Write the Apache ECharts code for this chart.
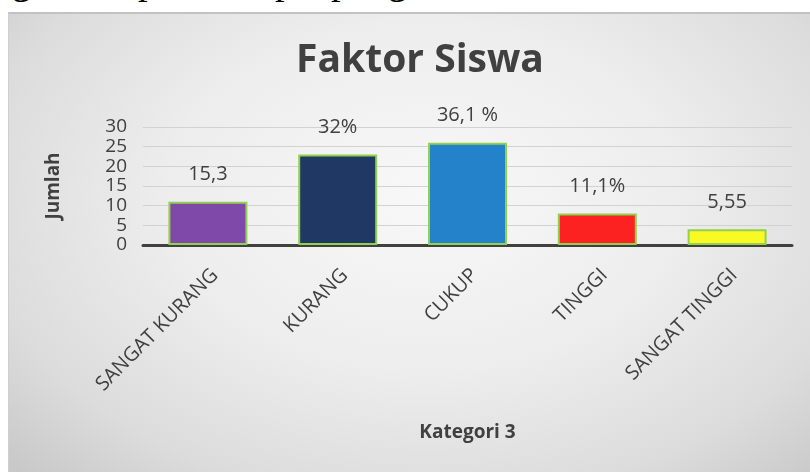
<!DOCTYPE html>
<html>
<head>
<meta charset="utf-8">
<script src="https://cdn.jsdelivr.net/npm/echarts@6/dist/echarts.min.js"></script>
<style>
  html, body { margin: 0; padding: 0; background: #fff; }
  #page { position: relative; width: 810px; height: 472px; overflow: hidden; background: #fff; }
  #strip { position: absolute; left: 0; top: 0; width: 810px; height: 12px; overflow: hidden; }
  #strip span { position: absolute; top: -39px; font: 38px/40px "Liberation Serif", serif; color: #000; }
  #frame {
    position: absolute; left: 8px; top: 12px; width: 802px; height: 460px;
    border-top: 2px solid #c2c2c2; border-left: 1px solid #cfcfcf; box-sizing: border-box;
    background: radial-gradient(ellipse 72% 85% at 52% 40%, #f8f8f8 0%, #ededed 45%, #dcdcdc 78%, #c8c8c8 100%);
  }
  #chart { position: absolute; left: 0; top: 0; width: 810px; height: 472px; }
</style>
</head>
<body>
<div id="page">
  <div id="strip">
    <span style="left:12px">g</span>
    <span style="left:138px">p</span>
    <span style="left:275px">p</span>
    <span style="left:331px">p</span>
    <span style="left:388px">g</span>
  </div>
  <div id="frame"></div>
  <div id="chart"></div>
</div>
<script>
// Données du graphique
const categories = ['SANGAT KURANG', 'KURANG', 'CUKUP', 'TINGGI', 'SANGAT TINGGI'];
const values = [11, 23, 26, 8, 4];
const valueLabels = ['15,3', '32%', '36,1 %', '11,1%', '5,55'];
const barColors = ['#7f49a9', '#203864', '#2382c9', '#fd2222', '#f9f923'];
const yTicks = [0, 30, 5]; // min, max, interval

const FONT = '"Open Sans", "Noto Sans", sans-serif';
const TEXT_COLOR = '#404040';

const chart = echarts.init(document.getElementById('chart'), null, { renderer: 'canvas' });

chart.setOption({
  backgroundColor: 'transparent',
  animation: false,
  title: {
    text: 'Faktor Siswa',
    left: 415,
    top: 36,
    textAlign: 'center',
    textStyle: { fontFamily: FONT, fontSize: 39, fontWeight: 'bold', color: TEXT_COLOR },
  },
  grid: {
    left: 143,
    right: 18,
    top: 127,
    bottom: 227,
    containLabel: false,
    outerBoundsMode: 'none',
  },
  xAxis: {
    type: 'category',
    data: categories,
    name: 'Kategori 3',
    nameLocation: 'middle',
    nameGap: 178,
    nameTextStyle: { fontFamily: FONT, fontSize: 19, fontWeight: 'bold', color: TEXT_COLOR },
    axisLine: { lineStyle: { color: '#404040', width: 3 } },
    axisTick: { show: false },
    axisLabel: {
      rotate: 45,
      interval: 0,
      margin: 20,
      verticalAlign: 'top',
      fontFamily: FONT,
      fontSize: 20,
      color: TEXT_COLOR,
    },
  },
  yAxis: {
    type: 'value',
    min: yTicks[0],
    max: yTicks[1],
    interval: yTicks[2],
    name: 'Jumlah',
    nameLocation: 'middle',
    nameRotate: 90,
    nameGap: 80,
    nameTextStyle: { fontFamily: FONT, fontSize: 19, fontWeight: 'bold', color: TEXT_COLOR },
    axisLine: { show: false },
    axisTick: { show: false },
    axisLabel: {
      margin: 16,
      showMinLabel: true,
      showMaxLabel: true,
      hideOverlap: false,
      fontFamily: FONT,
      fontSize: 19,
      color: TEXT_COLOR,
    },
    splitLine: { lineStyle: { color: '#d2d2d2', width: 1 } },
  },
  series: [{
    type: 'bar',
    barWidth: 79,
    data: values.map((v, i) => ({
      value: v,
      itemStyle: { color: barColors[i] },
    })),
    itemStyle: { borderColor: '#92d050', borderWidth: 2 },
    label: {
      show: true,
      position: 'top',
      distance: 17,
      fontFamily: FONT,
      fontSize: 20,
      color: TEXT_COLOR,
      formatter: p => valueLabels[p.dataIndex],
    },
  }],
});
</script>
</body>
</html>
